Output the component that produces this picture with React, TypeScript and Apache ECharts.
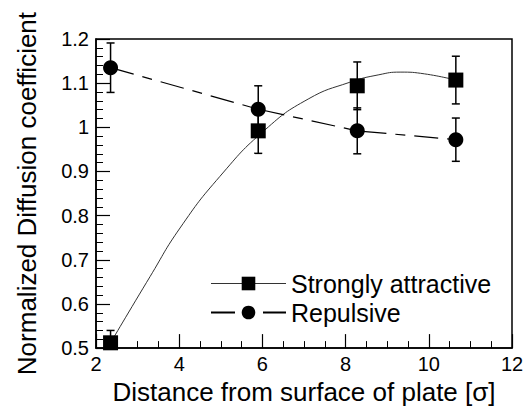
import React, { useEffect, useRef } from "react";
import * as echarts from "echarts";

// Measured points
const distances = [2.35, 5.9, 8.28, 10.65];
const attractiveValues = [0.512, 0.992, 1.094, 1.107];
const attractiveErrors = [0.028, 0.051, 0.054, 0.054];
const repulsiveValues = [1.135, 1.041, 0.992, 0.972];
const repulsiveErrors = [0.056, 0.053, 0.052, 0.049];

// Fitted curve for "Strongly attractive"
const fitX = [2.35, 3.3, 4.02, 4.98, 6.06, 7.1, 8.1, 8.8, 9.31, 9.9, 10.65];
const fitY = [0.512, 0.662, 0.772, 0.889, 0.994, 1.064, 1.102, 1.119, 1.125, 1.121, 1.107];

const xTicks = [2, 4, 6, 8, 10, 12];
const yTicks = [0.5, 0.6, 0.7, 0.8, 0.9, 1, 1.1, 1.2];

const FONT = "Liberation Sans, Arial, Helvetica, sans-serif";

function errorBarRender(params: any, api: any) {
  const x = api.value(0);
  const y = api.value(1);
  const e = api.value(2);
  const top = api.coord([x, y + e]);
  const bot = api.coord([x, y - e]);
  const half = 4;
  const style = { stroke: "#000", lineWidth: 1.5 };
  return {
    type: "group",
    children: [
      { type: "line", shape: { x1: top[0], y1: top[1], x2: bot[0], y2: bot[1] }, style },
      { type: "line", shape: { x1: top[0] - half, y1: top[1], x2: top[0] + half, y2: top[1] }, style },
      { type: "line", shape: { x1: bot[0] - half, y1: bot[1], x2: bot[0] + half, y2: bot[1] }, style },
    ],
  };
}

export default function App() {
  const ref = useRef<HTMLDivElement>(null);
  useEffect(() => {
    if (!ref.current) return;
    const chart = echarts.init(ref.current, null, { renderer: "svg" });
    const attractive = distances.map((d, i) => [d, attractiveValues[i]]);
    const repulsive = distances.map((d, i) => [d, repulsiveValues[i]]);
    const attractiveErr = distances.map((d, i) => [d, attractiveValues[i], attractiveErrors[i]]);
    const repulsiveErr = distances.map((d, i) => [d, repulsiveValues[i], repulsiveErrors[i]]);
    const fit = fitX.map((x, i) => [x, fitY[i]]);

    chart.setOption({
      animation: false,
      backgroundColor: "#fff",
      textStyle: { fontFamily: FONT },
      grid: {
        left: 96,
        right: 15,
        top: 39,
        bottom: 56,
        show: true,
        borderColor: "#000",
        borderWidth: 1.5,
        backgroundColor: "transparent",
      },
      xAxis: {
        type: "value",
        min: xTicks[0],
        max: xTicks[xTicks.length - 1],
        interval: 2,
        name: "Distance from surface of plate [σ]",
        nameLocation: "middle",
        nameGap: 23,
        nameTextStyle: { fontSize: 26, color: "#000", fontFamily: FONT },
        axisLine: { show: true, lineStyle: { color: "#000", width: 1.5 } },
        axisTick: { show: true, inside: true, length: 14, lineStyle: { color: "#000", width: 1.2 } },
        minorTick: { show: true, splitNumber: 4, length: 7, lineStyle: { color: "#000", width: 1 } },
        axisLabel: { fontSize: 20, color: "#000", margin: 6, fontFamily: FONT },
        splitLine: { show: false },
      },
      yAxis: {
        type: "value",
        min: yTicks[0],
        max: yTicks[yTicks.length - 1],
        interval: 0.1,
        name: "Normalized Diffusion coefficient",
        nameLocation: "middle",
        nameGap: 56,
        nameTextStyle: { fontSize: 26, color: "#000", fontFamily: FONT },
        axisLine: { show: true, lineStyle: { color: "#000", width: 1.5 } },
        axisTick: { show: true, inside: true, length: 14, lineStyle: { color: "#000", width: 1.2 } },
        minorTick: { show: true, splitNumber: 5, length: 7, lineStyle: { color: "#000", width: 1 } },
        axisLabel: { fontSize: 20, color: "#000", margin: 7, fontFamily: FONT },
        splitLine: { show: false },
      },
      legend: {
        orient: "vertical",
        left: 205,
        top: 266,
        itemWidth: 75,
        itemHeight: 17,
        itemGap: 4,
        textStyle: { fontSize: 25, color: "#000", fontFamily: FONT, padding: [0, 0, 0, 0] },
        data: [
          {
            name: "Strongly attractive",
            lineStyle: { color: "#333", width: 1, type: "solid", opacity: 1 },
          },
          {
            name: "Repulsive",
          },
        ],
      },
      series: [
        {
          type: "custom",
          name: "errA",
          renderItem: errorBarRender,
          data: attractiveErr,
          clip: true,
          z: 1,
          silent: true,
        },
        {
          type: "custom",
          name: "errR",
          renderItem: errorBarRender,
          data: repulsiveErr,
          clip: true,
          z: 1,
          silent: true,
        },
        {
          type: "line",
          name: "fit",
          data: fit,
          smooth: 0.5,
          showSymbol: false,
          symbol: "none",
          lineStyle: { color: "#333", width: 1 },
          z: 2,
          silent: true,
        },
        {
          type: "line",
          name: "Strongly attractive",
          data: attractive,
          symbol: "rect",
          symbolSize: 15,
          itemStyle: { color: "#000" },
          lineStyle: { width: 0, opacity: 0 },
          clip: false,
          z: 3,
        },
        {
          type: "line",
          name: "Repulsive",
          data: repulsive,
          symbol: "circle",
          symbolSize: 15,
          itemStyle: { color: "#000" },
          lineStyle: { color: "#000", width: 1.2, type: [24, 9, 10, 9] },
          clip: false,
          z: 3,
        },
      ],
    });
    return () => chart.dispose();
  }, []);
  return (
    <div
      ref={ref}
      style={{ position: "fixed", left: 0, top: 0, width: 527, height: 410, background: "#fff" }}
    />
  );
}
